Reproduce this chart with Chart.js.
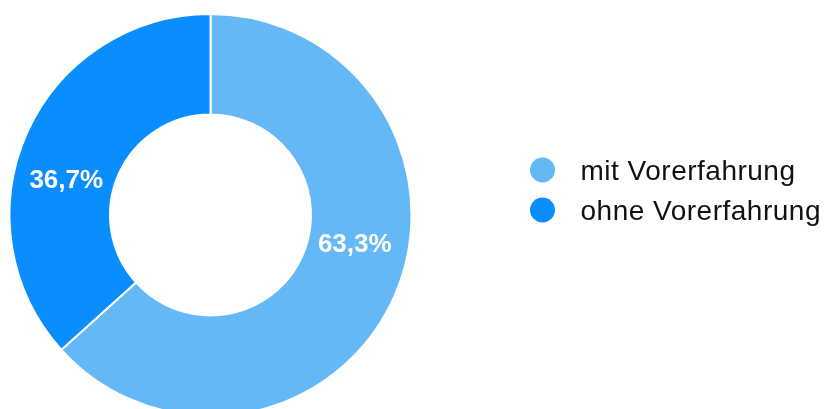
<!DOCTYPE html>
<html>
<head>
<meta charset="utf-8">
<script src="https://cdn.jsdelivr.net/npm/chart.js@4.4.1/dist/chart.umd.min.js"></script>
<style>
  html, body { margin: 0; padding: 0; background: #fff; overflow: hidden; }
  #wrap { position: relative; width: 827px; height: 420px; }
</style>
</head>
<body>
<div id="wrap"><canvas id="c"></canvas></div>
<script>
const categories = ['mit Vorerfahrung', 'ohne Vorerfahrung'];
const values = [63.3, 36.7];
const valueLabels = ['63,3%', '36,7%'];
const colors = ['#64B8F6', '#0A8DFF'];

const labelPlugin = {
  id: 'sliceLabels',
  afterDatasetsDraw(chart) {
    const ctx = chart.ctx;
    const meta = chart.getDatasetMeta(0);
    ctx.save();
    ctx.letterSpacing = '0px';
    ctx.font = 'bold 26px "Liberation Sans", Arial, sans-serif';
    ctx.fillStyle = '#fff';
    ctx.textAlign = 'center';
    ctx.textBaseline = 'middle';
    meta.data.forEach((arc, i) => {
      const p = arc.getProps(['x', 'y', 'startAngle', 'endAngle', 'innerRadius', 'outerRadius'], true);
      const a = (p.startAngle + p.endAngle) / 2 - 0.2;
      const r = p.innerRadius + (p.outerRadius - p.innerRadius) * 0.47;
      ctx.fillText(valueLabels[i], p.x + Math.cos(a) * r, p.y + Math.sin(a) * r - 2);
    });
    ctx.restore();
  }
};

const legendPlugin = {
  id: 'sideLegend',
  afterDraw(chart) {
    const ctx = chart.ctx;
    const area = chart.chartArea;
    const markerX = area.right + 130;
    const textX = markerX + 38;
    const firstY = 170;
    const rowGap = 40;
    ctx.save();
    ctx.font = '28px "Liberation Sans", Arial, sans-serif';
    ctx.letterSpacing = '0.5px';
    ctx.textAlign = 'left';
    ctx.textBaseline = 'alphabetic';
    categories.forEach((label, i) => {
      const y = firstY + i * rowGap;
      ctx.beginPath();
      ctx.fillStyle = colors[i];
      ctx.arc(markerX, y, 12.5, 0, Math.PI * 2);
      ctx.fill();
      ctx.fillStyle = '#111';
      ctx.fillText(label, textX, y + 9.5);
    });
    ctx.restore();
  }
};

new Chart(document.getElementById('c'), {
  type: 'doughnut',
  data: {
    labels: categories,
    datasets: [{
      data: values,
      backgroundColor: colors,
      borderColor: '#ffffff',
      borderWidth: 2,
      hoverOffset: 0
    }]
  },
  options: {
    responsive: true,
    maintainAspectRatio: false,
    animation: false,
    cutout: '50%',
    layout: { padding: { left: 8.5, top: 13, right: 414.5, bottom: 3 } },
    plugins: {
      legend: { display: false },
      tooltip: { enabled: false }
    }
  },
  plugins: [labelPlugin, legendPlugin]
});
</script>
</body>
</html>
